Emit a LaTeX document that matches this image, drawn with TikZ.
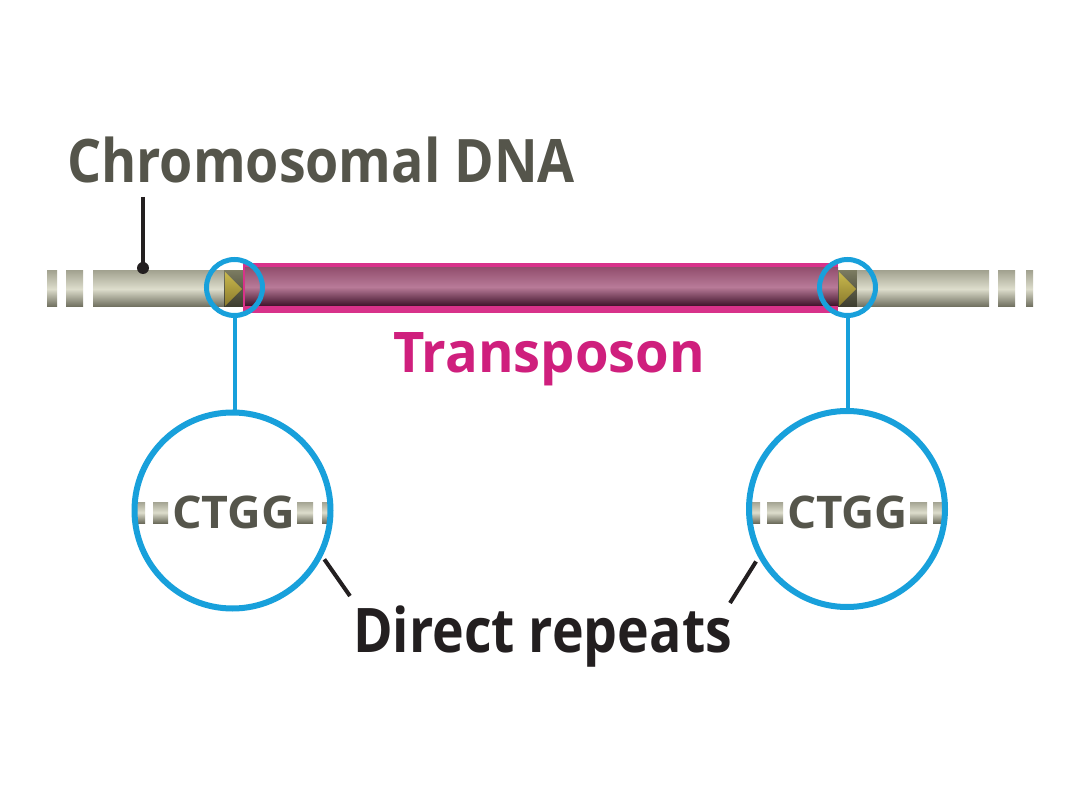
\documentclass[tikz,border=0pt]{standalone}
\usepackage{fontspec}
\setmainfont{Open Sans}
\usetikzlibrary{calc}
\definecolor{gtop}{HTML}{A4A492}
\definecolor{gmid}{HTML}{DDDDCC}
\definecolor{gbot}{HTML}{6C6C5C}
\definecolor{pinkc}{HTML}{D8328A}
\definecolor{mtop}{HTML}{93506F}
\definecolor{mmid}{HTML}{B87A98}
\definecolor{mbot}{HTML}{3E1229}
\definecolor{ytop}{HTML}{C9B94E}
\definecolor{ybot}{HTML}{8A7A2C}
\definecolor{otop}{HTML}{7A7A60}
\definecolor{obot}{HTML}{3C3C2E}
\definecolor{bluec}{HTML}{18A0DB}
\definecolor{grayt}{HTML}{55554B}
\definecolor{darkt}{HTML}{231F20}
\definecolor{magt}{HTML}{CF1F7D}
\begin{document}
\begin{tikzpicture}[x=1pt,y=-1pt,
  gbar/.style={top color=gtop,bottom color=gbot,middle color=gmid,draw=none},
  obox/.style={top color=otop,bottom color=obot,draw=none},
  ytri/.style={top color=ytop,bottom color=ybot,draw=none},
  ring/.style={circle,draw=bluec,fill=none,inner sep=0pt,outer sep=0pt},
  bline/.style={draw=bluec,line width=4pt},
  ptr/.style={draw=darkt,line width=4pt},
  lbl/.style={inner sep=0pt,outer sep=0pt,anchor=base west}]
\fill[white] (0,0) rectangle (1080,810);
\useasboundingbox (0,0) rectangle (1080,810);
% chromosome left
\path[gbar] (47,271) rectangle (57,307);
\path[gbar] (66,271) rectangle (83,307);
\path[gbar] (93,271) rectangle (225,307);
% left repeat box
\path[obox] (224,271) rectangle (243,307);
\path[ytri] (225,272) -- (242,289) -- (225,306) -- cycle;
% transposon
\fill[pinkc] (243,263) rectangle (838,313);
\path[top color=mtop,bottom color=mbot,middle color=mmid] (245,268) rectangle (838,306);
% right repeat box
\path[obox] (838,271) rectangle (857,307);
\path[ytri] (839,272) -- (856,289) -- (839,306) -- cycle;
% chromosome right
\path[gbar] (857,271) rectangle (989,307);
\path[gbar] (998,271) rectangle (1015,307);
\path[gbar] (1026,271) rectangle (1033,307);
% small rings
\node[ring,line width=5pt,minimum size=56pt] (sL) at (234.5,287.5) {};
\node[ring,line width=5pt,minimum size=56pt] (sR) at (847.5,287.5) {};
% big rings content
\path[gbar] (137,502) rectangle (145,523);
\path[gbar] (153,502) rectangle (168,523);
\path[gbar] (297,502) rectangle (313,523);
\path[gbar] (322,502) rectangle (330,523);
\path[gbar] (751,502) rectangle (760,523);
\path[gbar] (767,502) rectangle (783,523);
\path[gbar] (910,502) rectangle (927,523);
\path[gbar] (933,502) rectangle (942,523);
\node[ring,line width=6pt,minimum size=196pt] (bL) at (232.5,510.5) {};
\node[ring,line width=6pt,minimum size=196pt] (bR) at (847,509) {};
\node[lbl,text=grayt] (ctL) at (172,529) {\fontsize{45pt}{45pt}\selectfont\bfseries\resizebox{123pt}{\height}{CTGG}};
\node[lbl,text=grayt] (ctR) at (787,529) {\fontsize{45pt}{45pt}\selectfont\bfseries\resizebox{121pt}{\height}{CTGG}};
% connectors rings
\draw[bline] (sL.south) -- (sL.south |- bL.north);
\draw[bline] (sR.south) -- (sR.south |- bR.north);
% labels
\node[lbl,text=grayt] (chr) at (67,183) {\fontsize{60pt}{60pt}\selectfont\bfseries\resizebox{508pt}{\height}{Chromosomal DNA}};
\node[lbl,text=magt] (tp) at (393,373) {\fontsize{56pt}{56pt}\selectfont\bfseries\resizebox{312pt}{\height}{Transposon}};
\node[lbl,text=darkt] (dr) at (353,652) {\fontsize{61.5pt}{61.5pt}\selectfont\bfseries\resizebox{379pt}{\height}{Direct repeats}};
% chromosomal pointer
\coordinate (cp0) at (143,197);
\coordinate (cp1) at (143,268);
\draw[ptr] (cp0) -- (cp1);
\fill[darkt] (cp1) circle[radius=6pt];
% direct repeat pointers
\coordinate (dL) at (350,596);
\coordinate (dR) at (730,603);
\draw[ptr] ($(bL.center)+(-28:104pt)$) -- (dL);
\draw[ptr] ($(bR.center)+(210:105pt)$) -- (dR);
\end{tikzpicture}
\end{document}
